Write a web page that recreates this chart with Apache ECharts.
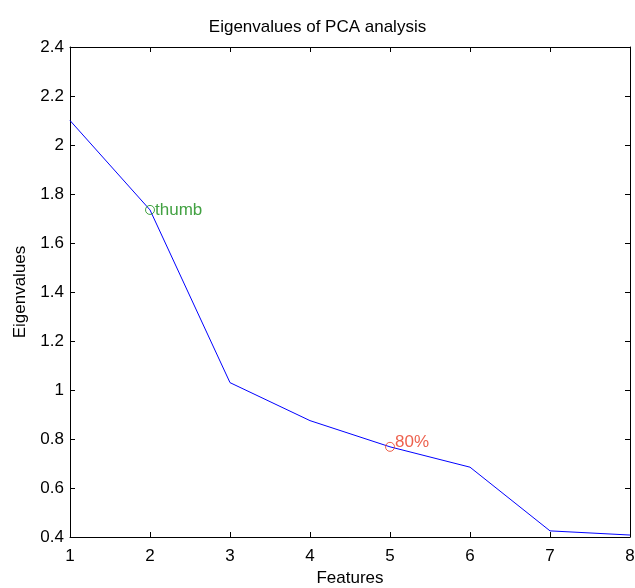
<!DOCTYPE html>
<html><head><meta charset="utf-8">
<script src="https://cdn.jsdelivr.net/npm/echarts@6/dist/echarts.min.js"></script>
<style>html,body{margin:0;padding:0;background:#fff}#c{width:635px;height:588px}</style>
</head><body><div id="c"></div>
<script>
const features = [1, 2, 3, 4, 5, 6, 7, 8];
const eigenvalues = [2.10, 1.735, 1.03, 0.875, 0.768, 0.685, 0.425, 0.408];
const thumbPoint = [2, 1.735];
const thumbLabel = 'thumb';
const pctPoint = [5, 0.768];
const pctLabel = '80%';
const xTicks = [1, 2, 3, 4, 5, 6, 7, 8];
const yTicks = [0.4, 0.6, 0.8, 1, 1.2, 1.4, 1.6, 1.8, 2, 2.2, 2.4];

const F = 'Liberation Sans, Arial, sans-serif';
const chart = echarts.init(document.getElementById('c'));
const lineData = features.map((f, i) => [f, eigenvalues[i]]);
const axisLine = {show: true, lineStyle: {color: '#000', width: 1}};
const tick = {inside: true, length: 5, lineStyle: {color: '#000'}};
chart.setOption({
  animation: false,
  title: {text: 'Eigenvalues of PCA analysis', left: 'center', top: 14,
    textStyle: {fontFamily: F, fontSize: 17, fontWeight: 'normal', color: '#000'}},
  grid: {left: 70, right: 5, top: 47, bottom: 51, containLabel: false, outerBoundsMode: 'none'},
  xAxis: [{
    type: 'value', min: 1, max: 8, interval: 1,
    name: 'Features', nameLocation: 'middle', nameGap: 33,
    nameTextStyle: {fontFamily: F, fontSize: 17, color: '#000'},
    axisLine: axisLine, axisTick: tick,
    axisLabel: {fontFamily: F, fontSize: 17, color: '#000', margin: 11},
    splitLine: {show: false}
  }, {
    type: 'value', min: 1, max: 8, interval: 1, position: 'top',
    axisLine: axisLine, axisTick: tick,
    axisLabel: {show: false}, splitLine: {show: false}
  }],
  yAxis: [{
    type: 'value', min: 0.4, max: 2.4, interval: 0.2,
    name: 'Eigenvalues', nameLocation: 'middle', nameGap: 41, nameRotate: 90,
    nameTextStyle: {fontFamily: F, fontSize: 17, color: '#000'},
    axisLine: axisLine, axisTick: tick,
    axisLabel: {fontFamily: F, fontSize: 17, color: '#000', margin: 6,
      formatter: v => String(Math.round(v * 10) / 10)},
    splitLine: {show: false}
  }, {
    type: 'value', min: 0.4, max: 2.4, interval: 0.2, position: 'right',
    axisLine: axisLine, axisTick: tick,
    axisLabel: {show: false}, splitLine: {show: false}
  }],
  series: [{
    type: 'line', data: lineData, showSymbol: false, symbol: 'none',
    lineStyle: {color: '#0000ff', width: 1}, z: 2
  }, {
    type: 'scatter', data: [thumbPoint], symbol: 'circle', symbolSize: 9,
    itemStyle: {color: 'rgba(0,0,0,0)', borderColor: '#138a13', borderWidth: 1},
    label: {show: true, position: 'right', distance: 0, formatter: thumbLabel,
      fontFamily: F, fontSize: 17, color: '#138a13'}, z: 3
  }, {
    type: 'scatter', data: [pctPoint], symbol: 'circle', symbolSize: 9,
    itemStyle: {color: 'rgba(0,0,0,0)', borderColor: '#e8381f', borderWidth: 1},
    label: {show: true, position: 'right', distance: 0, offset: [0, -5], formatter: pctLabel,
      fontFamily: F, fontSize: 17, color: '#e8381f'}, z: 3
  }]
});
</script></body></html>
